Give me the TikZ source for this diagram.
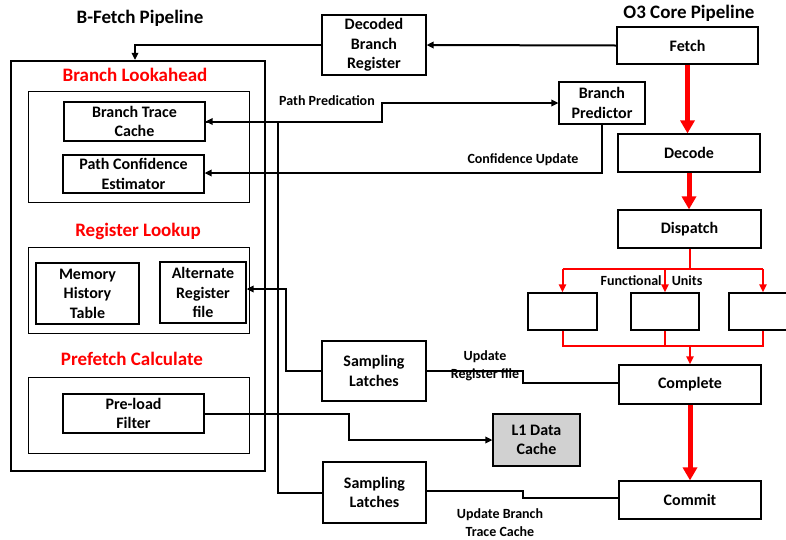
\documentclass[tikz,border=0pt]{standalone}
\usepackage{fontspec}
\setmainfont{Carlito}
\usetikzlibrary{arrows.meta,calc}
\begin{document}
\begin{tikzpicture}[x=1pt,y=-1pt,
  box/.style={draw, line width=1.2pt, align=center, font=\fontsize{16}{19.5}\selectfont\bfseries, inner sep=0pt},
  grp/.style={draw, line width=1pt, inner sep=0pt},
  conn/.style={line width=2pt},
  arr/.style={-{Triangle[width=6.5pt,length=7pt]}},
  lbl/.style={font=\fontsize{14}{17.5}\selectfont\bfseries, align=center, inner sep=0pt},
  ttl/.style={font=\fontsize{19}{22}\selectfont\bfseries, inner sep=0pt},
  redttl/.style={ttl, text=red},
  redline/.style={draw=red, line width=2pt},
  redarr/.style={-{Triangle[width=7pt,length=8pt]}},
  bigred/.style={draw=red, line width=5pt, -{Triangle[width=14pt,length=13pt]}}
]
\useasboundingbox (0,0) rectangle (786,539);

% titles
\node[ttl] (t1) at (140,18) {B-Fetch Pipeline};
\node[ttl] (t2) at (689,13) {O3 Core Pipeline};

% B-Fetch outer box and groups
\node[draw, line width=2.2pt, inner sep=0pt, minimum width=254pt, minimum height=410pt] (outer) at (138,266) {};
\node[redttl] (g1t) at (135,75) {Branch Lookahead};
\node[grp, minimum width=221pt, minimum height=111pt] (g1) at (138.5,146.5) {};
\node[redttl] (g2t) at (138,231) {Register Lookup};
\node[grp, minimum width=221pt, minimum height=86pt] (g2) at (138.5,290) {};
\node[redttl] (g3t) at (132,359) {Prefetch Calculate};
\node[grp, minimum width=221pt, minimum height=76pt] (g3) at (138.5,415) {};

\node[box, minimum width=141pt, minimum height=39pt] (btc) at (134.5,121.5) {Branch Trace\\Cache};
\node[box, minimum width=141pt, minimum height=38pt] (pce) at (133.5,174) {Path Confidence\\Estimator};
\node[box, minimum width=103pt, minimum height=61pt] (mht) at (87.5,293.5) {Memory\\History\\Table};
\node[box, minimum width=86pt, minimum height=61pt] (arf) at (203,292.5) {Alternate\\Register\\file};
\node[box, minimum width=141pt, minimum height=39pt] (plf) at (133.5,413.5) {Pre-load\\Filter};

% middle column
\node[box, minimum width=104pt, minimum height=60pt] (dbr) at (374,45) {Decoded\\Branch\\Register};
\node[box, minimum width=86pt, minimum height=42pt] (bp) at (602,103) {Branch\\Predictor};
\node[box, minimum width=104pt, minimum height=60pt] (sl1) at (374,371) {Sampling\\Latches};
\node[box, minimum width=103pt, minimum height=61pt] (sl2) at (374.5,492.5) {Sampling\\Latches};
\node[box, fill=black!18, minimum width=87pt, minimum height=52pt] (l1) at (536.5,440) {L1 Data\\Cache};

% O3 core
\node[box, minimum width=141pt, minimum height=37pt] (fetch) at (687.5,45.5) {Fetch};
\node[box, minimum width=142pt, minimum height=38pt] (decode) at (689,153) {Decode};
\node[box, minimum width=143pt, minimum height=38pt] (dispatch) at (689.5,229) {Dispatch};
\node[box, minimum width=69pt, minimum height=37pt] (fu1) at (562.5,311.5) {};
\node[box, minimum width=68pt, minimum height=37pt] (fu2) at (665,311.5) {};
\node[box, minimum width=68pt, minimum height=37pt] (fu3) at (763,311.5) {};
\node[box, minimum width=142pt, minimum height=39pt] (complete) at (690,384.5) {Complete};
\node[box, minimum width=142pt, minimum height=38pt] (commit) at (690,500) {Commit};

% helper coordinates
\coordinate (cpp) at (382,0);
\coordinate (c278) at (278,0);
\coordinate (c286) at (286,0);
\coordinate (c523) at (523,0);
\coordinate (c349) at (349,0);
\coordinate (split) at (0,269);
\coordinate (merge) at (0,346);

% labels
\node[lbl] (lpp) at (327,101) {Path Predication};
\node[lbl] (lcu) at (523,160) {Confidence Update};
\node[lbl] (lfu) at (651.5,281) {Functional\hspace{7pt} Units};
\node[lbl] (lurf) at (485,366) {Update\\Register file};
\node[lbl] (lubt) at (500,522.5) {Update Branch\\Trace Cache};

% black connectors
\draw[conn,arr] (fetch.west) -- (dbr.east);
\draw[conn,arr] (dbr.west) -| ($(outer.north)+(-3,0)$);
\draw[conn,arr] (btc.east) -| (cpp |- bp.west) -- (bp.west);
\draw[conn,arr] (bp.south) |- ($(pce.east)+(0,-1)$);
\draw[conn,arr] (sl2.west) -| (c278 |- btc.east) -- (btc.east);
\draw[conn,arr] (sl1.west) -| (c286 |- {$(arf.east)+(0,-3.5)$}) -- ($(arf.east)+(0,-3.5)$);
\draw[conn] ($(complete.west)+(0,-1.5)$) -| (c523 |- sl1.east) -- (sl1.east);
\draw[conn] ($(commit.west)+(0,-2)$) -| (c523 |- {$(sl2.east)+(0,-1.5)$}) -- ($(sl2.east)+(0,-1.5)$);
\draw[conn,arr] (plf.east) -| (c349 |- l1.west) -- (l1.west);

% red pipeline
\draw[bigred] (fetch.south) -- (fetch.south |- decode.north);
\draw[bigred] (decode.south) -- (decode.south |- dispatch.north);
\draw[redline] (dispatch.south) -- (dispatch.south |- split);
\draw[redline] (fu1.north |- split) -- (fu3.north |- split);
\draw[redline,redarr] (fu1.north |- split) -- (fu1.north);
\draw[redline,redarr] (fu2.north |- split) -- (fu2.north);
\draw[redline,redarr] (fu3.north |- split) -- (fu3.north);
\draw[redline] (fu1.south) -- (fu1.south |- merge) -- (fu3.south |- merge) -- (fu3.south);
\draw[redline] (fu2.south) -- (fu2.south |- merge);
\draw[redline,redarr] (complete.north |- merge) -- (complete.north);
\draw[bigred] (complete.south) -- (commit.north);
\end{tikzpicture}
\end{document}
